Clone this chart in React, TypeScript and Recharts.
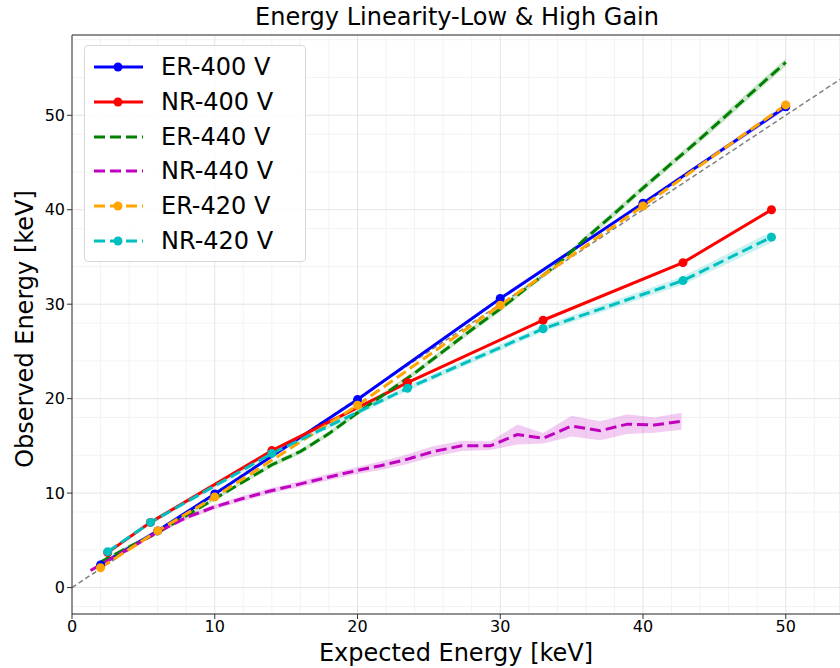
import React from "react";
import {
  ComposedChart,
  Line,
  Area,
  XAxis,
  YAxis,
  CartesianGrid,
  ReferenceLine,
} from "recharts";

const W = 840;
const H = 668;
const XMAX = 53.8;
const YMIN = -2.8;
const YMAX = 58.5;

const xMajor = [0, 10, 20, 30, 40, 50];
const xMinor = [2, 4, 6, 8, 12, 14, 16, 18, 22, 24, 26, 28, 32, 34, 36, 38, 42, 44, 46, 48, 52];
const yMajor = [0, 10, 20, 30, 40, 50];
const yMinor = [-2, 2, 4, 6, 8, 12, 14, 16, 18, 22, 24, 26, 28, 32, 34, 36, 38, 42, 44, 46, 48, 52, 54, 56, 58];

// ER-400 V
const er400X = [2, 6, 10, 20, 30, 40, 50];
const er400Y = [2.4, 6.0, 9.9, 19.9, 30.6, 40.7, 50.9];
const er400Err = [0.1, 0.1, 0.1, 0.15, 0.15, 0.2, 0.3];

// NR-400 V
const nr400X = [2.5, 5.5, 14, 23.5, 33, 42.8, 49];
const nr400Y = [3.7, 6.9, 14.5, 21.7, 28.3, 34.4, 40.0];

// ER-440 V
const er440X = [2, 4, 6, 8, 10, 12, 14, 16, 18, 20, 22, 24, 26, 28, 30, 32, 34, 36, 38, 40, 42, 44, 46, 48, 50];
const er440Y = [2.7, 4.3, 5.8, 7.6, 9.4, 11.2, 13.0, 14.4, 16.3, 18.5, 20.6, 22.7, 25.0, 27.3, 29.5, 31.9, 34.2, 37.0, 39.6, 42.3, 44.9, 47.5, 50.2, 52.9, 55.6];
const er440Err = [0.2, 0.2, 0.2, 0.2, 0.2, 0.2, 0.25, 0.25, 0.25, 0.25, 0.25, 0.25, 0.3, 0.3, 0.3, 0.3, 0.3, 0.3, 0.35, 0.35, 0.35, 0.35, 0.4, 0.4, 0.4];

// NR-440 V
const nr440X = [1.3, 2.2, 4.1, 6.0, 8.0, 9.9, 11.9, 13.8, 15.8, 17.7, 19.7, 21.6, 23.3, 25.3, 27.3, 29.3, 31.2, 33.0, 35.0, 37.0, 38.9, 40.8, 42.7];
const nr440Y = [1.8, 2.6, 4.2, 5.9, 7.4, 8.5, 9.4, 10.2, 10.9, 11.6, 12.3, 12.9, 13.5, 14.4, 15.0, 15.0, 16.2, 15.8, 17.1, 16.6, 17.3, 17.2, 17.6];
const nr440Err = [0.15, 0.15, 0.2, 0.2, 0.25, 0.25, 0.3, 0.3, 0.3, 0.35, 0.35, 0.45, 0.5, 0.55, 0.55, 0.45, 1.05, 0.55, 1.1, 1.0, 1.05, 0.8, 0.9];

// ER-420 V
const er420X = [2, 6, 10, 20, 30, 40, 50];
const er420Y = [2.1, 6.0, 9.6, 19.3, 29.9, 40.4, 51.1];

// NR-420 V
const nr420X = [2.5, 5.5, 14, 23.5, 33, 42.8, 49];
const nr420Y = [3.8, 6.9, 14.2, 21.1, 27.4, 32.5, 37.1];
const nr420Err = [0.15, 0.2, 0.25, 0.3, 0.35, 0.45, 0.6];

const pts = (xs: number[], ys: number[], err?: number[]) =>
  xs.map((x, i) => ({
    x,
    y: ys[i],
    band: err ? [ys[i] - err[i], ys[i] + err[i]] : undefined,
  }));

const er400 = pts(er400X, er400Y, er400Err);
const nr400 = pts(nr400X, nr400Y);
const er440 = pts(er440X, er440Y, er440Err);
const nr440 = pts(nr440X, nr440Y, nr440Err);
const er420 = pts(er420X, er420Y);
const nr420 = pts(nr420X, nr420Y, nr420Err);

const BLUE = "#0000ff";
const RED = "#ff0000";
const GREEN = "#008000";
const MAGENTA = "#bf00bf";
const ORANGE = "#ffa500";
const CYAN = "#00bfbf";
const DASH = "11 5";

const legendItems = [
  { name: "ER-400 V", color: BLUE, dash: false, dot: true },
  { name: "NR-400 V", color: RED, dash: false, dot: true },
  { name: "ER-440 V", color: GREEN, dash: true, dot: false },
  { name: "NR-440 V", color: MAGENTA, dash: true, dot: false },
  { name: "ER-420 V", color: ORANGE, dash: true, dot: true },
  { name: "NR-420 V", color: CYAN, dash: true, dot: true },
];

const FONT = "'DejaVu Sans', sans-serif";
const tickStyle = { fontSize: 16, fill: "#000", fontFamily: FONT };
const noLabel = () => <g />;

const dotFor = (c: string) => ({ r: 4.5, fill: c, stroke: c, strokeWidth: 0 });

export default function App() {
  return (
    <div style={{ position: "absolute", left: 0, top: 0, width: W, height: H, background: "#fff", fontFamily: FONT }}>
      <ComposedChart width={W} height={H} margin={{ top: 35, right: 0, bottom: 0, left: 0 }}>
        <XAxis xAxisId="minor" dataKey="x" type="number" domain={[0, XMAX]} ticks={xMinor} tick={noLabel} tickSize={3} height={0} axisLine={false} stroke="#333" allowDataOverflow />
        <XAxis dataKey="x" type="number" domain={[0, XMAX]} ticks={xMajor} tickSize={5} height={54} tick={tickStyle} stroke="#333" allowDataOverflow />
        <YAxis yAxisId="minor" type="number" domain={[YMIN, YMAX]} ticks={yMinor} tick={noLabel} tickSize={3} width={0} axisLine={false} stroke="#333" allowDataOverflow />
        <YAxis type="number" domain={[YMIN, YMAX]} ticks={yMajor} tickSize={5} width={72} tick={tickStyle} stroke="#333" allowDataOverflow />
        <CartesianGrid xAxisId="minor" yAxisId="minor" stroke="#f3f3f3" strokeWidth={1} />
        <CartesianGrid stroke="#e4e4e4" strokeWidth={1} />
        <ReferenceLine y={YMAX} stroke="#333" strokeWidth={1.2} />
        <ReferenceLine segment={[{ x: 0, y: 0 }, { x: XMAX, y: XMAX }]} stroke="#808080" strokeWidth={1.5} strokeDasharray="5 3" />

        <Area data={er400} dataKey="band" type="linear" stroke="none" fill={BLUE} fillOpacity={0.2} isAnimationActive={false} />
        <Area data={er440} dataKey="band" type="linear" stroke="none" fill={GREEN} fillOpacity={0.2} isAnimationActive={false} />
        <Area data={nr440} dataKey="band" type="linear" stroke="none" fill={MAGENTA} fillOpacity={0.2} isAnimationActive={false} />
        <Area data={nr420} dataKey="band" type="linear" stroke="none" fill={CYAN} fillOpacity={0.2} isAnimationActive={false} />

        <Line data={er400} dataKey="y" type="linear" stroke={BLUE} strokeWidth={3} dot={dotFor(BLUE)} activeDot={false} isAnimationActive={false} />
        <Line data={nr400} dataKey="y" type="linear" stroke={RED} strokeWidth={3} dot={dotFor(RED)} activeDot={false} isAnimationActive={false} />
        <Line data={er440} dataKey="y" type="linear" stroke={GREEN} strokeWidth={3} strokeDasharray={DASH} dot={false} activeDot={false} isAnimationActive={false} />
        <Line data={nr440} dataKey="y" type="linear" stroke={MAGENTA} strokeWidth={3} strokeDasharray={DASH} dot={false} activeDot={false} isAnimationActive={false} />
        <Line data={er420} dataKey="y" type="linear" stroke={ORANGE} strokeWidth={3} strokeDasharray={DASH} dot={dotFor(ORANGE)} activeDot={false} isAnimationActive={false} />
        <Line data={nr420} dataKey="y" type="linear" stroke={CYAN} strokeWidth={3} strokeDasharray={DASH} dot={dotFor(CYAN)} activeDot={false} isAnimationActive={false} />
      </ComposedChart>

      <div style={{ position: "absolute", left: 72, width: 770, top: 3, textAlign: "center", fontSize: 24, lineHeight: "28px", color: "#000" }}>
        Energy Linearity-Low &amp; High Gain
      </div>
      <div style={{ position: "absolute", left: 72, width: 768, top: 639, textAlign: "center", fontSize: 24, lineHeight: "28px", color: "#000" }}>
        Expected Energy [keV]
      </div>
      <div style={{ position: "absolute", left: 25, top: 329, width: 0, height: 0 }}>
        <div style={{ position: "absolute", left: 0, top: 0, transform: "translate(-50%, -50%) rotate(-90deg)", whiteSpace: "nowrap", fontSize: 24, lineHeight: "28px", color: "#000" }}>
          Observed Energy [keV]
        </div>
      </div>

      <div style={{ position: "absolute", left: 84, top: 45, width: 222, height: 217, boxSizing: "border-box", border: "1px solid #d8d8d8", borderRadius: 4, background: "rgba(255,255,255,0.85)" }}>
        {legendItems.map((it, i) => (
          <div key={it.name} style={{ position: "absolute", left: 7, top: 5 + i * 34.8, height: 32, display: "flex", alignItems: "center" }}>
            <svg width={52} height={32}>
              <line x1={2} y1={16} x2={51} y2={16} stroke={it.color} strokeWidth={3} strokeDasharray={it.dash ? DASH : undefined} />
              {it.dot && <circle cx={26} cy={16} r={4.5} fill={it.color} />}
            </svg>
            <span style={{ marginLeft: 17, fontSize: 24, color: "#000", whiteSpace: "nowrap" }}>{it.name}</span>
          </div>
        ))}
      </div>
    </div>
  );
}
